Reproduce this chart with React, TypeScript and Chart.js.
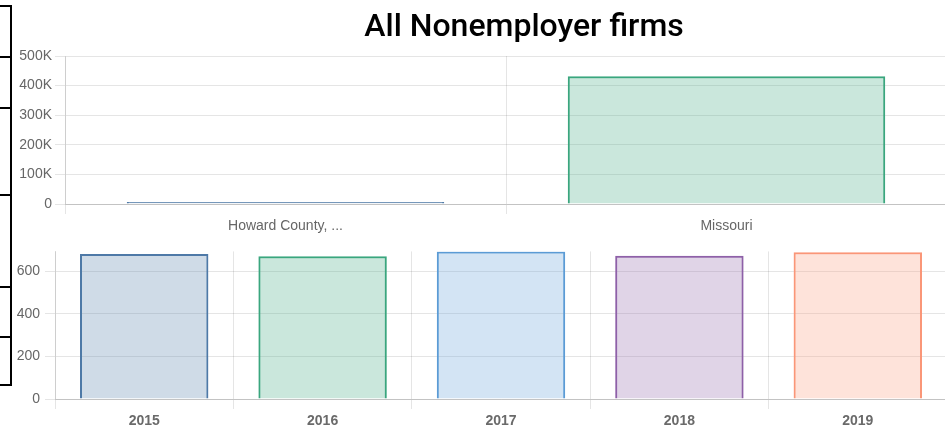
import React, { useEffect, useRef } from "react";
import { Chart, registerables } from "chart.js";

Chart.register(...registerables);

// ---- data ----
const titleText = "All Nonemployer firms";
const regionLabels = ["Howard County, ...", "Missouri"];
const regionValues = [690, 432000];
const regionBorders = ["rgb(78,121,167)", "rgb(58,166,126)"];
const regionFills = ["rgba(78,121,167,0.27)", "rgba(58,166,126,0.27)"];
const regionTickValues = [0, 100000, 200000, 300000, 400000, 500000];

const yearLabels = ["2015", "2016", "2017", "2018", "2019"];
const yearValues = [682, 671, 694, 674, 690];
const yearBorders = [
  "rgb(78,121,167)",
  "rgb(58,166,126)",
  "rgb(91,155,213)",
  "rgb(142,96,168)",
  "rgb(250,150,120)",
];
const yearFills = [
  "rgba(78,121,167,0.27)",
  "rgba(58,166,126,0.27)",
  "rgba(91,155,213,0.27)",
  "rgba(142,96,168,0.27)",
  "rgba(250,150,120,0.27)",
];

// bracket lines on the left edge (y positions of horizontal rules)
const bracketStops = [6, 57, 108, 195, 287, 337, 385];

const tickFamily = "'Liberation Sans', Arial, sans-serif";
const gridColor = "rgba(0,0,0,0.1)";
const axisColor = "rgba(0,0,0,0.15)";

const TOP_W = 1048;
const TOP_H = 240;
const BOT_W = 1000;
const BOT_H = 192;
const BOT_TOP = 238;

const centerTitle = {
  id: "centerTitle",
  afterLayout(chart: any) {
    const t = chart.titleBlock;
    if (t) {
      t.left = 0;
      t.right = chart.width;
      t.width = chart.width;
    }
  },
};

export default function App() {
  const topRef = useRef<HTMLCanvasElement | null>(null);
  const botRef = useRef<HTMLCanvasElement | null>(null);

  useEffect(() => {
    const topChart = new Chart(topRef.current as HTMLCanvasElement, {
      type: "bar",
      data: {
        labels: regionLabels,
        datasets: [
          {
            data: regionValues,
            backgroundColor: regionFills,
            borderColor: regionBorders,
            borderWidth: 2,
            minBarLength: 2,
          },
        ],
      },
      options: {
        responsive: false,
        animation: false,
        layout: { padding: { left: 0, right: TOP_W - 947, top: 0, bottom: 0 } },
        plugins: {
          legend: { display: false },
          tooltip: { enabled: false },
          title: {
            display: true,
            text: titleText,
            color: "#000",
            font: { family: "Roboto, 'Noto Sans', sans-serif", size: 32, weight: "500" },
            padding: { top: 9, bottom: 8.6 },
          },
        },
        scales: {
          x: {
            grid: { color: gridColor, tickLength: 10 },
            border: { color: axisColor },
            ticks: {
              color: "#666",
              font: { family: tickFamily, size: 14 },
              padding: 4,
              maxRotation: 0,
              autoSkip: false,
            },
            afterFit: (s: any) => {
              s.height = 36;
            },
          },
          y: {
            min: regionTickValues[0],
            max: regionTickValues[regionTickValues.length - 1],
            grid: { color: gridColor, tickLength: 10 },
            border: { color: gridColor },
            ticks: {
              stepSize: regionTickValues[1] - regionTickValues[0],
              color: "#666",
              font: { family: tickFamily, size: 14 },
              padding: 3,
              callback: (v: any) => (v === 0 ? "0" : v / 1000 + "K"),
            },
            afterFit: (s: any) => {
              s.width = 65;
            },
          },
        },
      },
      plugins: [centerTitle],
    } as any);

    const botChart = new Chart(botRef.current as HTMLCanvasElement, {
      type: "bar",
      data: {
        labels: yearLabels,
        datasets: [
          {
            data: yearValues,
            backgroundColor: yearFills,
            borderColor: yearBorders,
            borderWidth: 2,
          },
        ],
      },
      options: {
        responsive: false,
        animation: false,
        layout: { padding: { left: 0, right: BOT_W - 947, top: 12, bottom: 0 } },
        plugins: {
          legend: { display: false },
          tooltip: { enabled: false },
          title: { display: false },
        },
        scales: {
          x: {
            grid: { color: gridColor, tickLength: 10 },
            border: { color: axisColor },
            ticks: {
              color: "#6a6a6a",
              font: { family: tickFamily, size: 14, weight: "bold" },
              padding: 4,
              maxRotation: 0,
              autoSkip: false,
            },
            afterFit: (s: any) => {
              s.height = 31;
            },
          },
          y: {
            min: 0,
            max: Math.max(...yearValues),
            grid: { color: gridColor, tickLength: 10 },
            border: { color: gridColor },
            ticks: {
              stepSize: 200,
              includeBounds: false,
              color: "#666",
              font: { family: tickFamily, size: 14 },
              padding: 5,
            },
            afterFit: (s: any) => {
              s.width = 55;
            },
          },
        },
      },
    } as any);

    return () => {
      topChart.destroy();
      botChart.destroy();
    };
  }, []);

  const brackets = [];
  for (let i = 0; i < bracketStops.length - 1; i++) {
    const y0 = bracketStops[i];
    const y1 = bracketStops[i + 1];
    brackets.push(
      <div
        key={i}
        style={{
          position: "absolute",
          left: -60,
          top: y0 - 1,
          width: 72,
          height: y1 - y0 + 2,
          border: "2px solid #000",
          boxSizing: "border-box",
        }}
      />
    );
  }

  return (
    <div
      style={{
        position: "fixed",
        left: 0,
        top: 0,
        width: 945,
        height: 430,
        overflow: "hidden",
        background: "#fff",
      }}
    >
      {brackets}
      <canvas
        ref={topRef}
        width={TOP_W}
        height={TOP_H}
        style={{ position: "absolute", left: 0, top: 0, width: TOP_W, height: TOP_H }}
      />
      <canvas
        ref={botRef}
        width={BOT_W}
        height={BOT_H}
        style={{ position: "absolute", left: 0, top: BOT_TOP, width: BOT_W, height: BOT_H }}
      />
    </div>
  );
}
